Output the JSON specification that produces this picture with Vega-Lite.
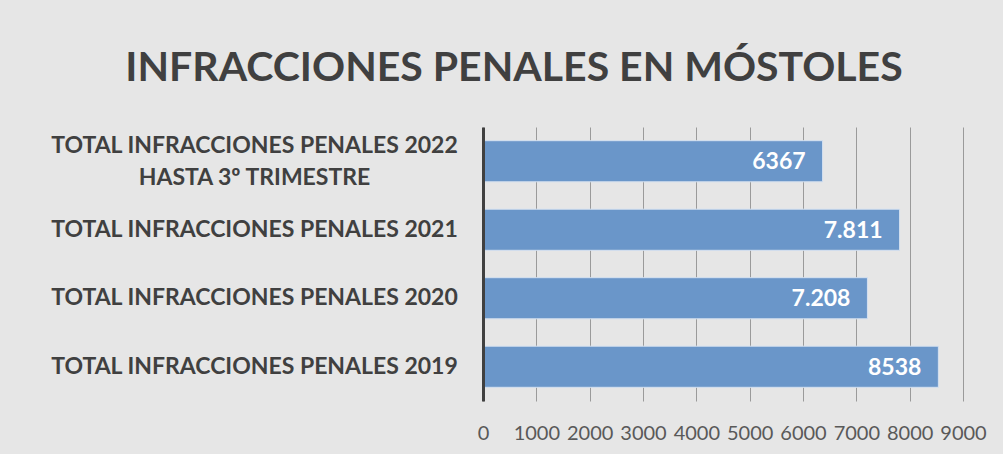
{
  "$schema": "https://vega.github.io/schema/vega-lite/v6.json",
  "autosize": {"type": "none"},
  "width": 480,
  "height": 274,
  "padding": {"left": 483, "top": 127, "right": 40, "bottom": 53},
  "background": "#e6e6e6",
  "title": {
    "text": "INFRACCIONES PENALES EN MÓSTOLES",
    "font": "Lato",
    "fontSize": 41,
    "fontWeight": "bold",
    "color": "#404040",
    "anchor": "middle",
    "frame": "group",
    "baseline": "alphabetic",
    "dx": -209,
    "offset": 5
  },
  "data": {
    "values": [
      {"categoria": "TOTAL INFRACCIONES PENALES 2022|HASTA 3º TRIMESTRE", "orden": 1, "valor": 6367, "etiqueta": "6367"},
      {"categoria": "TOTAL INFRACCIONES PENALES 2021", "orden": 2, "valor": 7811, "etiqueta": "7.811"},
      {"categoria": "TOTAL INFRACCIONES PENALES 2020", "orden": 3, "valor": 7208, "etiqueta": "7.208"},
      {"categoria": "TOTAL INFRACCIONES PENALES 2019", "orden": 4, "valor": 8538, "etiqueta": "8538"}
    ]
  },
  "encoding": {
    "y": {
      "field": "categoria",
      "type": "nominal",
      "sort": {"field": "orden", "order": "ascending"},
      "scale": {"paddingInner": 0.4, "paddingOuter": 0.2},
      "axis": {
        "title": null,
        "labelExpr": "split(datum.label, '|')",
        "labelFont": "Lato",
        "labelFontSize": 23,
        "labelFontWeight": "bold",
        "labelColor": "#404040",
        "labelAlign": "center",
        "labelPadding": 229,
        "labelLimit": 600,
        "labelLineHeight": 32,
        "labelOffset": {"condition": {"test": "indexof(datum.value, '|') >= 0", "value": -15}, "value": 0},
        "ticks": false,
        "tickSize": 0,
        "domainColor": "#404040",
        "domainWidth": 3,
        "grid": false,
        "zindex": 1
      }
    },
    "x": {
      "field": "valor",
      "type": "quantitative",
      "scale": {"domain": [0, 9000], "nice": false},
      "axis": {
        "title": null,
        "values": [0, 1000, 2000, 3000, 4000, 5000, 6000, 7000, 8000, 9000],
        "format": "d",
        "labelFont": "Lato",
        "labelFontSize": 20,
        "labelColor": "#595959",
        "labelPadding": 22,
        "labelOverlap": false,
        "labelFlush": false,
        "ticks": false,
        "tickSize": 0,
        "domain": false,
        "grid": true,
        "gridColor": "#9a9a9a",
        "gridWidth": 1,
        "zindex": 0
      }
    }
  },
  "layer": [
    {
      "mark": {"type": "bar", "color": "#6a96c9", "stroke": "#d4e0f0", "strokeWidth": 1}
    },
    {
      "mark": {
        "type": "text",
        "align": "right",
        "baseline": "middle",
        "dx": -17,
        "dy": 1,
        "font": "Lato",
        "fontSize": 23,
        "fontWeight": "bold",
        "color": "#ffffff"
      },
      "encoding": {"text": {"field": "etiqueta", "type": "nominal"}}
    }
  ],
  "config": {"view": {"stroke": null}}
}
